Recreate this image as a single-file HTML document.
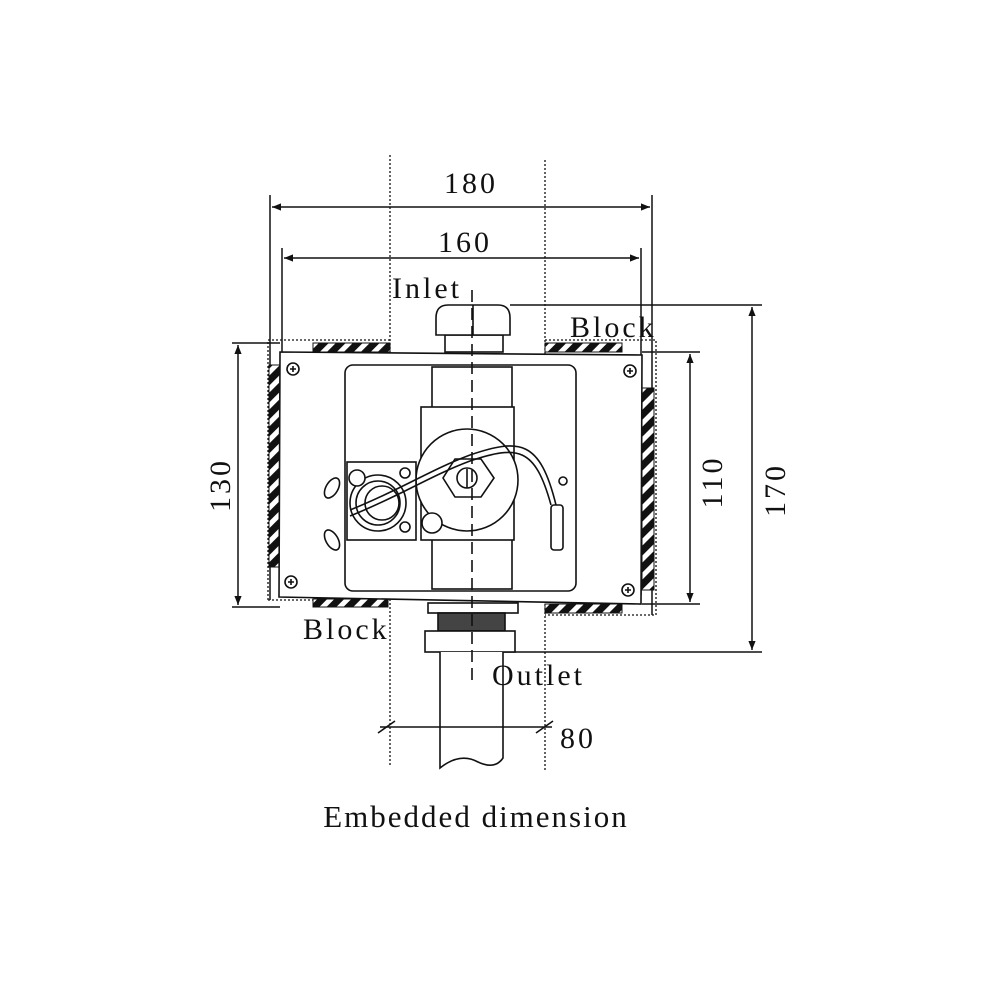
<!DOCTYPE html>
<html><head><style>
body{margin:0;background:#fff}
text{font-family:"Liberation Serif",serif;fill:#111;font-size:30px;letter-spacing:3px}
</style></head><body>
<svg width="1000" height="1000" viewBox="0 0 1000 1000" xmlns="http://www.w3.org/2000/svg">
<defs>
<pattern id="h" width="12" height="12" patternUnits="userSpaceOnUse" patternTransform="rotate(45)">
<rect width="12" height="12" fill="#fff"/><rect width="7" height="12" fill="#111"/>
</pattern>
<marker id="a" viewBox="0 0 10 10" refX="10" refY="5" markerWidth="9" markerHeight="6" orient="auto-start-reverse"><path d="M0,1 L10,5 L0,9z" fill="#111"/></marker>
</defs>
<g stroke="#111" fill="none" stroke-width="1.5">
<g stroke-dasharray="2,2" stroke-width="1.3">
<line x1="390" y1="155" x2="390" y2="765"/><line x1="545" y1="160" x2="545" y2="770"/>
<polyline points="268,600 268,340 392,340"/>
<polyline points="545,340 656,340 656,615 545,615"/>
<line x1="268" y1="600" x2="388" y2="600"/>
</g>
<line x1="270" y1="195" x2="270" y2="600"/><line x1="652" y1="195" x2="652" y2="615"/>
<line x1="272" y1="207" x2="650" y2="207" marker-start="url(#a)" marker-end="url(#a)"/>
<line x1="282" y1="248" x2="282" y2="352"/><line x1="641" y1="248" x2="641" y2="595"/>
<line x1="284" y1="258" x2="639" y2="258" marker-start="url(#a)" marker-end="url(#a)"/>
<line x1="232" y1="343" x2="280" y2="343"/><line x1="232" y1="607" x2="280" y2="607"/>
<line x1="238" y1="345" x2="238" y2="605" marker-start="url(#a)" marker-end="url(#a)"/>
<line x1="642" y1="352" x2="700" y2="352"/><line x1="642" y1="604" x2="700" y2="604"/>
<line x1="690" y1="354" x2="690" y2="602" marker-start="url(#a)" marker-end="url(#a)"/>
<line x1="510" y1="305" x2="762" y2="305"/><line x1="490" y1="652" x2="762" y2="652"/>
<line x1="752" y1="307" x2="752" y2="650" marker-start="url(#a)" marker-end="url(#a)"/>
</g>
<g stroke="#111" stroke-width="1">
<rect x="313" y="343" width="77" height="9" fill="url(#h)"/>
<rect x="545" y="343" width="77" height="9" fill="url(#h)"/>
<rect x="313" y="599" width="75" height="8" fill="url(#h)"/>
<rect x="545" y="604" width="77" height="9" fill="url(#h)"/>
<rect x="269" y="365" width="11" height="202" fill="url(#h)"/>
<rect x="642" y="388" width="12" height="202" fill="url(#h)"/>
</g>
<g stroke="#111" fill="#fff" stroke-width="1.6">
<polygon points="280,352 642,355 641,604 279,597"/>
<rect x="445" y="335" width="58" height="17"/>
<path d="M436,318 Q436,305 448,305 L498,305 Q510,305 510,318 L510,335 L436,335z"/>
<line x1="473" y1="305" x2="473" y2="335"/>
<rect x="345" y="365" width="231" height="226" rx="8"/>
<rect x="432" y="367" width="80" height="222"/>
<rect x="421" y="407" width="93" height="133"/>
<circle cx="467" cy="480" r="51"/>
<polygon points="455,459 481,459 494,478 481,497 455,497 443,478"/>
<circle cx="467" cy="478" r="10"/>
<line x1="467" y1="469" x2="467" y2="488"/>
<rect x="347" y="462" width="69" height="78"/>
<circle cx="378" cy="503" r="28"/><circle cx="378" cy="503" r="22"/><circle cx="382" cy="503" r="17"/>
<circle cx="357" cy="478" r="8"/>
<circle cx="405" cy="473" r="5"/><circle cx="405" cy="527" r="5"/>
<circle cx="432" cy="523" r="10"/>
<circle cx="293" cy="369" r="6"/><circle cx="630" cy="371" r="6"/>
<circle cx="291" cy="582" r="6"/><circle cx="628" cy="590" r="6"/>
<ellipse cx="332" cy="488" rx="6" ry="11" transform="rotate(30 332 488)"/>
<ellipse cx="332" cy="540" rx="6" ry="11" transform="rotate(-30 332 540)"/>
<circle cx="563" cy="481" r="4"/>
<rect x="551" y="505" width="12" height="45" rx="3"/>
<rect x="428" y="603" width="90" height="10"/>
<rect x="438" y="613" width="67" height="18" fill="#444"/>
<rect x="425" y="631" width="90" height="21"/>
<path d="M440,652 L440,768 Q460,752 478,762 Q495,770 503,758 L503,652" />
</g>
<g stroke="#111" fill="none" stroke-width="1.6">
<path d="M350,510 C400,490 430,470 470,455 C520,438 540,440 556,505"/>
<path d="M350,516 C400,496 430,476 470,461 C518,445 535,447 551,505"/>
<path d="M290,369h6M293,366v6M627,371h6M630,368v6M288,582h6M291,579v6M625,590h6M628,587v6"/>
<line x1="472" y1="290" x2="472" y2="685" stroke-dasharray="12,6"/>
<line x1="380" y1="727" x2="552" y2="727"/>
<line x1="378" y1="733" x2="395" y2="721"/><line x1="536" y1="733" x2="553" y2="721"/>
</g>
<text x="392" y="298">Inlet</text>
<text x="570" y="337">Block</text>
<text x="303" y="639">Block</text>
<text x="492" y="685">Outlet</text>
<text x="560" y="748">80</text>
<text x="471" y="193" text-anchor="middle">180</text>
<text x="465" y="252" text-anchor="middle">160</text>
<text x="0" y="0" text-anchor="middle" transform="translate(230,485) rotate(-90)">130</text>
<text x="0" y="0" text-anchor="middle" transform="translate(722,482) rotate(-90)">110</text>
<text x="0" y="0" text-anchor="middle" transform="translate(785,490) rotate(-90)">170</text>
<text x="476" y="827" text-anchor="middle" style="font-size:31px;letter-spacing:2px">Embedded dimension</text>
</svg>
</body></html>
